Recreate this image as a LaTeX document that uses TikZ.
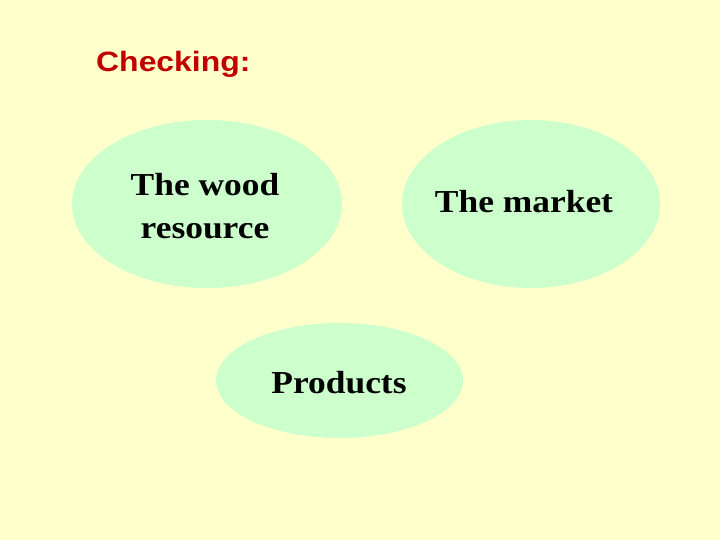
\documentclass[tikz,border=0pt]{standalone}
\usepackage{fontspec}
\setmainfont{Liberation Serif}
\newfontfamily\ovalfont[FakeStretch=1.107]{Liberation Serif}
\newfontfamily\headfont[FakeStretch=1.14]{Liberation Sans}
\usetikzlibrary{shapes.geometric}
\definecolor{slidebg}{HTML}{FFFFCC}
\definecolor{ovalfill}{HTML}{CCFFCC}
\definecolor{headred}{HTML}{C00000}
\tikzset{
  oval/.style={ellipse, fill=ovalfill, draw=none, inner sep=0pt},
  ovaltext/.style={inner sep=0pt, align=center, font=\ovalfont\bfseries\fontsize{32}{43}\selectfont},
  headtext/.style={inner sep=0pt, text=headred, font=\headfont\bfseries\fontsize{28}{34}\selectfont}
}
\begin{document}
\begin{tikzpicture}[x=1pt,y=-1pt]
\fill[slidebg] (0,0) rectangle (720,540);
\useasboundingbox (0,0) rectangle (720,540);
\node[headtext, anchor=base west] (title) at (96,72) {Checking:};
\node[oval, minimum width=270pt, minimum height=168pt] (wood) at (207,204) {};
\node[oval, minimum width=258pt, minimum height=168pt] (market) at (531,204) {};
\node[oval, minimum width=247pt, minimum height=115pt] (products) at (339.5,380.5) {};
\node[ovaltext] (woodtext) at (205,206.5) {The wood\\resource};
\node[ovaltext, anchor=base] (markettext) at (524,212) {The market};
\node[ovaltext, anchor=base] (productstext) at (339,393) {Products};
\end{tikzpicture}
\end{document}
